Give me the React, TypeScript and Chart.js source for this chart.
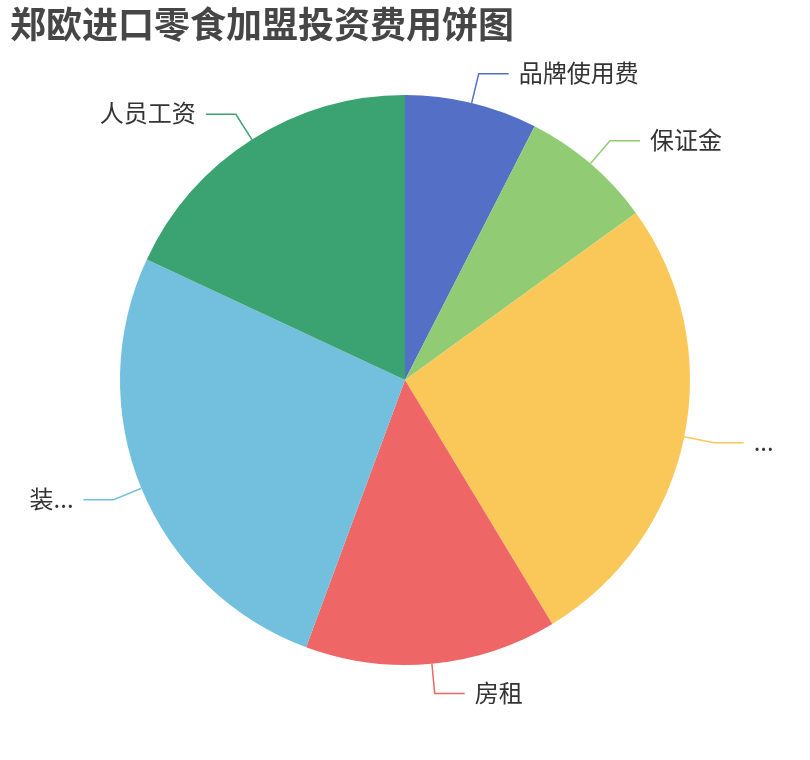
import React, { useEffect, useRef } from "react";
import { Chart, registerables } from "chart.js";

Chart.register(...registerables);

const TITLE = "郑欧进口零食加盟投资费用饼图";
const categories = ["品牌使用费", "保证金", "...", "房租", "装...", "人员工资"];
const values = [3, 3, 10.5, 5.7, 10.5, 7.2];
const colors = ["#5470c6", "#91cc75", "#fac858", "#ee6666", "#73c0de", "#3ba272"];

const FONT = '"Noto Sans CJK SC", "Noto Sans", sans-serif';

const labelPlugin = {
  id: "pieLabels",
  afterDatasetsDraw(chart: any) {
    const ctx = chart.ctx as CanvasRenderingContext2D;
    const meta = chart.getDatasetMeta(0);
    ctx.save();
    meta.data.forEach((arc: any, i: number) => {
      const { x, y, startAngle, endAngle, outerRadius } = arc.getProps(
        ["x", "y", "startAngle", "endAngle", "outerRadius"],
        true
      );
      const a = (startAngle + endAngle) / 2;
      const cos = Math.cos(a);
      const sin = Math.sin(a);
      const p0x = x + outerRadius * cos;
      const p0y = y + outerRadius * sin;
      const p1x = x + (outerRadius + 30) * cos;
      const p1y = y + (outerRadius + 30) * sin;
      const dir = cos >= 0 ? 1 : -1;
      const p2x = p1x + dir * 30;
      ctx.beginPath();
      ctx.moveTo(p0x, p0y);
      ctx.lineTo(p1x, p1y);
      ctx.lineTo(p2x, p1y);
      ctx.strokeStyle = colors[i];
      ctx.lineWidth = 1.5;
      ctx.stroke();
      ctx.fillStyle = "#333333";
      ctx.font = `24px ${FONT}`;
      ctx.textBaseline = "middle";
      ctx.textAlign = dir > 0 ? "left" : "right";
      ctx.fillText(categories[i], p2x + dir * 10, p1y - 1);
    });
    ctx.fillStyle = "#464646";
    ctx.font = `bold 36px ${FONT}`;
    ctx.textAlign = "left";
    ctx.textBaseline = "top";
    ctx.fillText(TITLE, 10, 6);
    ctx.restore();
  },
};

export default function App() {
  const ref = useRef<HTMLCanvasElement | null>(null);
  useEffect(() => {
    document.body.style.margin = "0";
    const canvas = ref.current;
    if (!canvas) return;
    const chart = new Chart(canvas, {
      type: "pie",
      data: {
        labels: categories,
        datasets: [
          {
            data: values,
            backgroundColor: colors,
            borderWidth: 0,
            hoverOffset: 0,
            offset: 0,
          },
        ],
      },
      options: {
        responsive: false,
        animation: false,
        layout: { padding: { left: 120, right: 120, top: 95, bottom: 95 } },
        plugins: {
          legend: { display: false },
          tooltip: { enabled: false },
          title: { display: false },
        },
      },
      plugins: [labelPlugin],
    });
    return () => chart.destroy();
  }, []);
  return (
    <div style={{ width: 810, height: 760, background: "#fff" }}>
      <canvas ref={ref} width={810} height={760} style={{ display: "block" }} />
    </div>
  );
}
